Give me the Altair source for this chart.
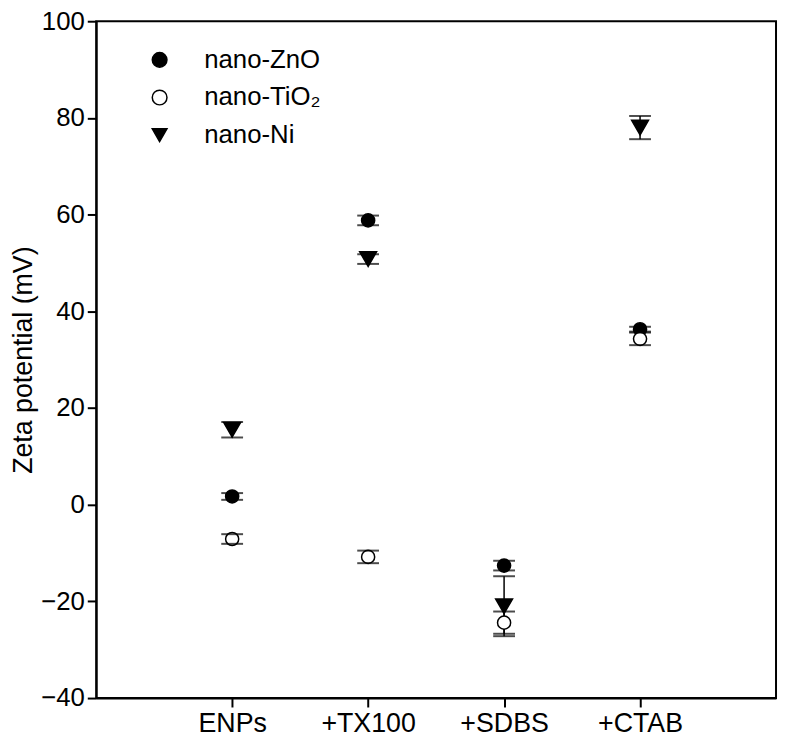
import altair as alt
import pandas as pd

categories = ["ENPs", "+TX100", "+SDBS", "+CTAB"]
series = ["nano-ZnO", "nano-TiO₂", "nano-Ni"]

zno = [1.7, 58.8, -12.6, 36.3]
zno_err = [0.7, 1.0, 1.0, 0.5]
tio2 = [-7.1, -10.8, -24.4, 34.3]
tio2_err = [1.0, 1.3, 2.3, 1.3]
ni = [15.5, 50.8, -21.0, 78.0]
ni_err = [1.6, 1.0, 6.2, 2.4]

rows = []
for name, vals, errs in [(series[0], zno, zno_err), (series[1], tio2, tio2_err), (series[2], ni, ni_err)]:
    for i, (c, v, e) in enumerate(zip(categories, vals, errs)):
        rows.append({"idx": i + 1, "category": c, "series": name, "value": v,
                     "lo": v - e, "hi": v + e})
df = pd.DataFrame(rows)

font = "Liberation Sans"
label_expr = "['', 'ENPs', '+TX100', '+SDBS', '+CTAB', ''][datum.value]"

x_enc = alt.X("idx:Q", scale=alt.Scale(domain=[0, 5], nice=False),
              axis=alt.Axis(values=[1, 2, 3, 4], labelExpr=label_expr, title=None,
                            grid=False, labelFontSize=27, labelPadding=4,
                            tickSize=9, tickWidth=2, tickColor="black",
                            domainColor="black", domainWidth=2, labelColor="black",
                            labelFont=font))
y_scale = alt.Scale(domain=[-40, 100], nice=False)
y_axis = alt.Axis(values=[-40, -20, 0, 20, 40, 60, 80, 100], title="Zeta potential (mV)",
                  grid=False, labelFontSize=26, labelPadding=3, tickSize=9, tickWidth=2,
                  tickColor="black", domainColor="black", domainWidth=2,
                  labelColor="black", titleColor="black", titleFontSize=27,
                  titleFontWeight="normal", titleFont=font, labelFont=font, titlePadding=3)

legend = alt.Legend(title=None, orient="none", legendX=51, legendY=26,
                    labelFontSize=26, labelFont=font, labelColor="black",
                    symbolSize=220, symbolStrokeColor="black", symbolStrokeWidth=1.5,
                    rowPadding=12, labelOffset=32, padding=0)

fill_enc = alt.Fill("series:N", scale=alt.Scale(domain=series, range=["black", "white", "black"]),
                    legend=legend)
stroke_enc = alt.Stroke("series:N", scale=alt.Scale(domain=series, range=["black", "black", "black"]),
                        legend=legend)
shape_enc = alt.Shape("series:N", scale=alt.Scale(domain=series,
                                                  range=["circle", "circle", "triangle-down"]),
                      legend=legend)

base = alt.Chart(df)

rules = base.mark_rule(color="black", strokeWidth=1.5).encode(
    x=x_enc, y=alt.Y("lo:Q", scale=y_scale, axis=y_axis), y2="hi:Q")

cap_lo = base.mark_tick(orient="horizontal", size=22, thickness=2, color="black").encode(
    x="idx:Q", y="lo:Q")
cap_hi = base.mark_tick(orient="horizontal", size=22, thickness=2, color="black").encode(
    x="idx:Q", y="hi:Q")

circles = base.transform_filter(alt.datum.series != series[2]).mark_point(
    filled=True, strokeWidth=1.5, opacity=1, fillOpacity=1, size=175).encode(
    x="idx:Q", y="value:Q", fill=fill_enc, stroke=stroke_enc, shape=shape_enc)

triangles = base.transform_filter(alt.datum.series == series[2]).mark_point(
    filled=True, strokeWidth=1.5, opacity=1, fillOpacity=1, size=290).encode(
    x="idx:Q", y="value:Q", fill=fill_enc, stroke=stroke_enc, shape=shape_enc)

chart = alt.layer(rules, circles, triangles, cap_lo, cap_hi).properties(
    width=686, height=683,
    autosize=alt.AutoSizeParams(type="none"),
    padding={"left": 89, "top": 10, "right": 2, "bottom": 42},
).configure_view(stroke="black", strokeWidth=2)

chart.save("out.html", embed_options={"renderer": "svg", "actions": False})
